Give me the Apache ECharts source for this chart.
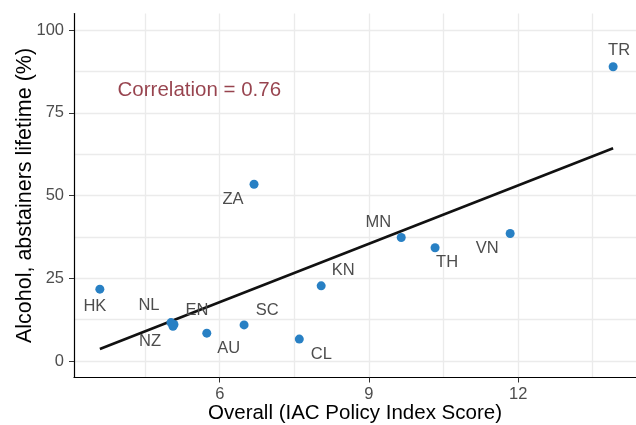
<!DOCTYPE html>
<html>
<head>
<meta charset="utf-8">
<script src="https://cdn.jsdelivr.net/npm/echarts@6/dist/echarts.min.js"></script>
<style>
html,body{margin:0;padding:0;background:#fff;}
#chart{width:636px;height:425px;}
</style>
</head>
<body>
<div id="chart"></div>
<script>
// ---- data ----
const countries = ['HK','NL','NZ','EN','AU','SC','CL','KN','ZA','MN','TH','VN','TR'];
const policyScore = [3.59, 5.02, 5.06, 5.08, 5.74, 6.49, 7.60, 8.04, 6.69, 9.65, 10.33, 11.84, 13.91];
const abstainers  = [21.7, 11.6, 10.5, 11.0, 8.4, 10.9, 6.6, 22.7, 53.4, 37.3, 34.2, 38.5, 88.9];
const fitX = [3.59, 13.91];
const fitY = [3.6, 64.3];
const xTickLabels = [6, 9, 12];
const xGridValues = [4.5, 6, 7.5, 9, 10.5, 12, 13.5];
const yTickLabels = [0, 25, 50, 75, 100];
const yGridValues = [0, 12.5, 25, 37.5, 50, 62.5, 75, 87.5, 100];
const correlationText = 'Correlation = 0.76';
const correlationPos = [5.59, 81.8];

// ---- label placement (pixel offsets from each point) ----
const labelOffsets = {
  HK: [-5, 17], NL: [-22, -17], NZ: [-23, 15], EN: [23, -14], AU: [22, 15],
  SC: [23, -14], CL: [22, 15], KN: [22, -15], ZA: [-21, 15], MN: [-23, -15],
  TH: [12, 15], VN: [-23, 15], TR: [6, -16]
};

const points = countries.map((c, i) => ({
  value: [policyScore[i], abstainers[i]],
  name: c,
  label: { offset: labelOffsets[c] }
}));

const X_MIN = 3.07, X_MAX = 14.37, Y_MIN = -5, Y_MAX = 105;
const font = 'Liberation Sans, Arial, Helvetica, sans-serif';

const chart = echarts.init(document.getElementById('chart'), null, { renderer: 'canvas' });
chart.setOption({
  animation: false,
  backgroundColor: '#ffffff',
  grid: { left: 74, right: 0, top: 13.5, bottom: 47.5, containLabel: false, outerBoundsMode: 'none' },
  xAxis: [
    {
      type: 'value', min: X_MIN, max: X_MAX,
      axisLine: { show: true, onZero: false, lineStyle: { color: '#000', width: 1.2 } },
      axisTick: { show: true, length: 5, customValues: xTickLabels, lineStyle: { color: '#333', width: 1 } },
      axisLabel: { show: true, customValues: xTickLabels, margin: 8, color: '#4d4d4d', fontSize: 16.5, fontFamily: font },
      splitLine: { show: false },
      name: 'Overall (IAC Policy Index Score)', nameLocation: 'middle', nameGap: 25,
      nameMoveOverlap: false,
      nameTextStyle: { color: '#000', fontSize: 20.5, fontFamily: font, verticalAlign: 'top' }
    },
    {
      type: 'value', min: X_MIN, max: X_MAX, position: 'bottom',
      axisLine: { show: false }, axisLabel: { show: false },
      axisTick: { show: false, customValues: xGridValues },
      splitLine: { show: true, lineStyle: { color: '#ebebeb', width: 1.3 } }
    }
  ],
  yAxis: [
    {
      type: 'value', min: Y_MIN, max: Y_MAX,
      axisLine: { show: true, onZero: false, lineStyle: { color: '#000', width: 1.2 } },
      axisTick: { show: true, length: 5, customValues: yTickLabels, lineStyle: { color: '#333', width: 1 } },
      axisLabel: { show: true, customValues: yTickLabels, margin: 10, color: '#4d4d4d', fontSize: 16.5, fontFamily: font },
      splitLine: { show: false },
      name: 'Alcohol, abstainers lifetime (%)', nameLocation: 'middle', nameGap: 38,
      nameMoveOverlap: false,
      nameTextStyle: { color: '#000', fontSize: 21.5, fontFamily: font }
    },
    {
      type: 'value', min: Y_MIN, max: Y_MAX, position: 'left',
      axisLine: { show: false }, axisLabel: { show: false },
      axisTick: { show: false, customValues: yGridValues },
      splitLine: { show: true, lineStyle: { color: '#ebebeb', width: 1.3 } }
    }
  ],
  series: [
    {
      type: 'line', xAxisIndex: 0, yAxisIndex: 0, z: 3,
      data: fitX.map((x, i) => [x, fitY[i]]),
      symbol: 'none', lineStyle: { color: '#111', width: 2.6 }, silent: true
    },
    {
      type: 'scatter', xAxisIndex: 0, yAxisIndex: 0, z: 4,
      data: points, symbolSize: 9,
      itemStyle: { color: '#2880c4', opacity: 1 },
      label: {
        show: true, position: 'inside', formatter: '{b}',
        color: '#4d4d4d', fontSize: 16.5, fontFamily: font,
        align: 'center', verticalAlign: 'middle'
      }
    },
    {
      type: 'scatter', xAxisIndex: 0, yAxisIndex: 0, z: 5,
      data: [{ value: correlationPos, name: correlationText }],
      symbolSize: 0, silent: true,
      label: {
        show: true, position: 'inside', formatter: '{b}',
        color: '#7d1422', fontSize: 20.5, fontFamily: font,
        align: 'center', verticalAlign: 'middle'
      }
    }
  ]
});
</script>
</body>
</html>
